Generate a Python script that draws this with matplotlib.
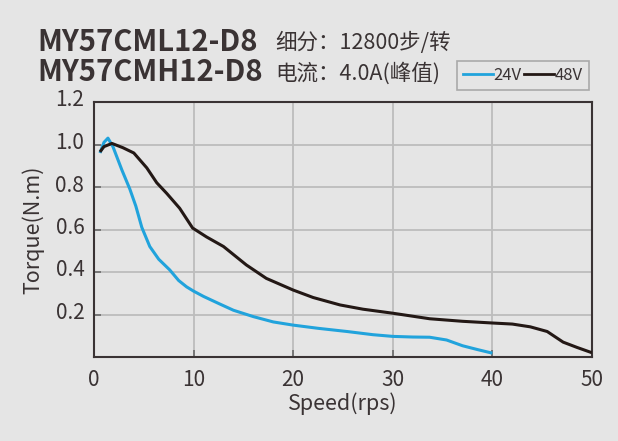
import matplotlib
matplotlib.use("Agg")
import matplotlib.pyplot as plt
from matplotlib.transforms import ScaledTranslation
from matplotlib.lines import Line2D

plt.rcParams['font.family'] = ['Noto Sans CJK SC', 'DejaVu Sans']

# Data
speed_24v = [0.6, 1.0, 1.4, 1.9, 2.8, 3.6, 4.2, 4.8, 5.6, 6.5, 7.6, 8.5, 9.3, 10, 11, 12.6, 14, 16, 18,
             20, 22.5, 25.4, 28, 30, 32, 33.7, 35.4, 37, 38.5, 40]
torque_24v = [0.96, 1.01, 1.03, 0.99, 0.88, 0.79, 0.71, 0.61, 0.52, 0.46, 0.41, 0.36, 0.33, 0.31, 0.285,
              0.25, 0.22, 0.19, 0.165, 0.15, 0.135, 0.12, 0.105, 0.097, 0.094, 0.093, 0.08, 0.053, 0.035, 0.018]
speed_48v = [0.6, 1.0, 1.8, 2.9, 4.0, 5.3, 6.3, 7.3, 8.6, 9.9, 11.3, 13, 15.3, 17.3, 20, 22, 24.7, 27,
             30, 33.7, 37, 40, 42, 43.8, 45.5, 47.1, 48.5, 50]
torque_48v = [0.965, 0.99, 1.005, 0.985, 0.96, 0.89, 0.82, 0.77, 0.70, 0.607, 0.565, 0.52, 0.433, 0.37,
              0.315, 0.28, 0.245, 0.225, 0.206, 0.18, 0.168, 0.16, 0.155, 0.142, 0.12, 0.07, 0.045, 0.02]
x_ticks = [0, 10, 20, 30, 40, 50]
y_ticks = [0.2, 0.4, 0.6, 0.8, 1.0, 1.2]
y_ticklabels = ['0.2', '0.4', '0.6', '0.8', '1.0', '1.2']

bg = '#e5e5e5'
txt = '#3a3334'
blue = '#21a3dc'
black = '#231815'

fig = plt.figure(figsize=(6.18, 4.41), dpi=100, facecolor=bg)
ax = fig.add_axes([94/618, 1-357/441, (592-94)/618, (357-102)/441], facecolor=bg)

ax.plot(speed_24v, torque_24v, color=blue, lw=2.2, solid_capstyle='butt', zorder=3)
ax.plot(speed_48v, torque_48v, color=black, lw=2.2, solid_capstyle='butt', zorder=4)

ax.set_xlim(0, 50)
ax.set_ylim(0, 1.2)
ax.set_xticks(x_ticks)
ax.set_yticks(y_ticks)
ax.set_yticklabels(y_ticklabels)
ax.grid(True, color='#bdbdbd', lw=1.3)
ax.set_axisbelow(True)
for s in ax.spines.values():
    s.set_color('#3a3334')
    s.set_linewidth(1.5)
ax.tick_params(axis='both', direction='in', length=5, width=1.2, color='#6a6a6a',
               labelsize=15, labelcolor=txt)
ax.tick_params(axis='x', pad=9)
ax.tick_params(axis='y', pad=7)
for lab in ax.get_yticklabels():
    lab.set_transform(lab.get_transform() + ScaledTranslation(0, 4/100, fig.dpi_scale_trans))

ax.set_xlabel('Speed(rps)', fontsize=15.5, color=txt, labelpad=1)
ax.set_ylabel('Torque(N.m)', fontsize=15.5, color=txt, labelpad=8)

# Header texts
fig.text(37/618, 1-42/441, 'MY57CML12-D8', fontsize=21, fontweight='bold', color=txt, va='center', ha='left')
fig.text(37/618, 1-72/441, 'MY57CMH12-D8', fontsize=21, fontweight='bold', color=txt, va='center', ha='left')
fig.text(275/618, 1-43/441, '细分：12800步/转', fontsize=15.5, color=txt, va='center', ha='left')
fig.text(275/618, 1-73/441, '电流：4.0A(峰值)', fontsize=15.5, color=txt, va='center', ha='left')

# Legend
leg_handles = [Line2D([], [], color=blue, lw=2), Line2D([], [], color=black, lw=2)]
leg = fig.legend(leg_handles, ['24V', '48V'], ncol=2, loc='center',
                 bbox_to_anchor=(523/618, 1-75.5/441), frameon=True, fontsize=12,
                 handlelength=1.8, handletextpad=0.05, columnspacing=0.15,
                 borderpad=0.35, fancybox=False, labelcolor=txt)
leg.get_frame().set_facecolor(bg)
leg.get_frame().set_edgecolor('#9a9a9a')
leg.get_frame().set_linewidth(1.2)

fig.savefig('out.png', dpi=100, facecolor=bg)
